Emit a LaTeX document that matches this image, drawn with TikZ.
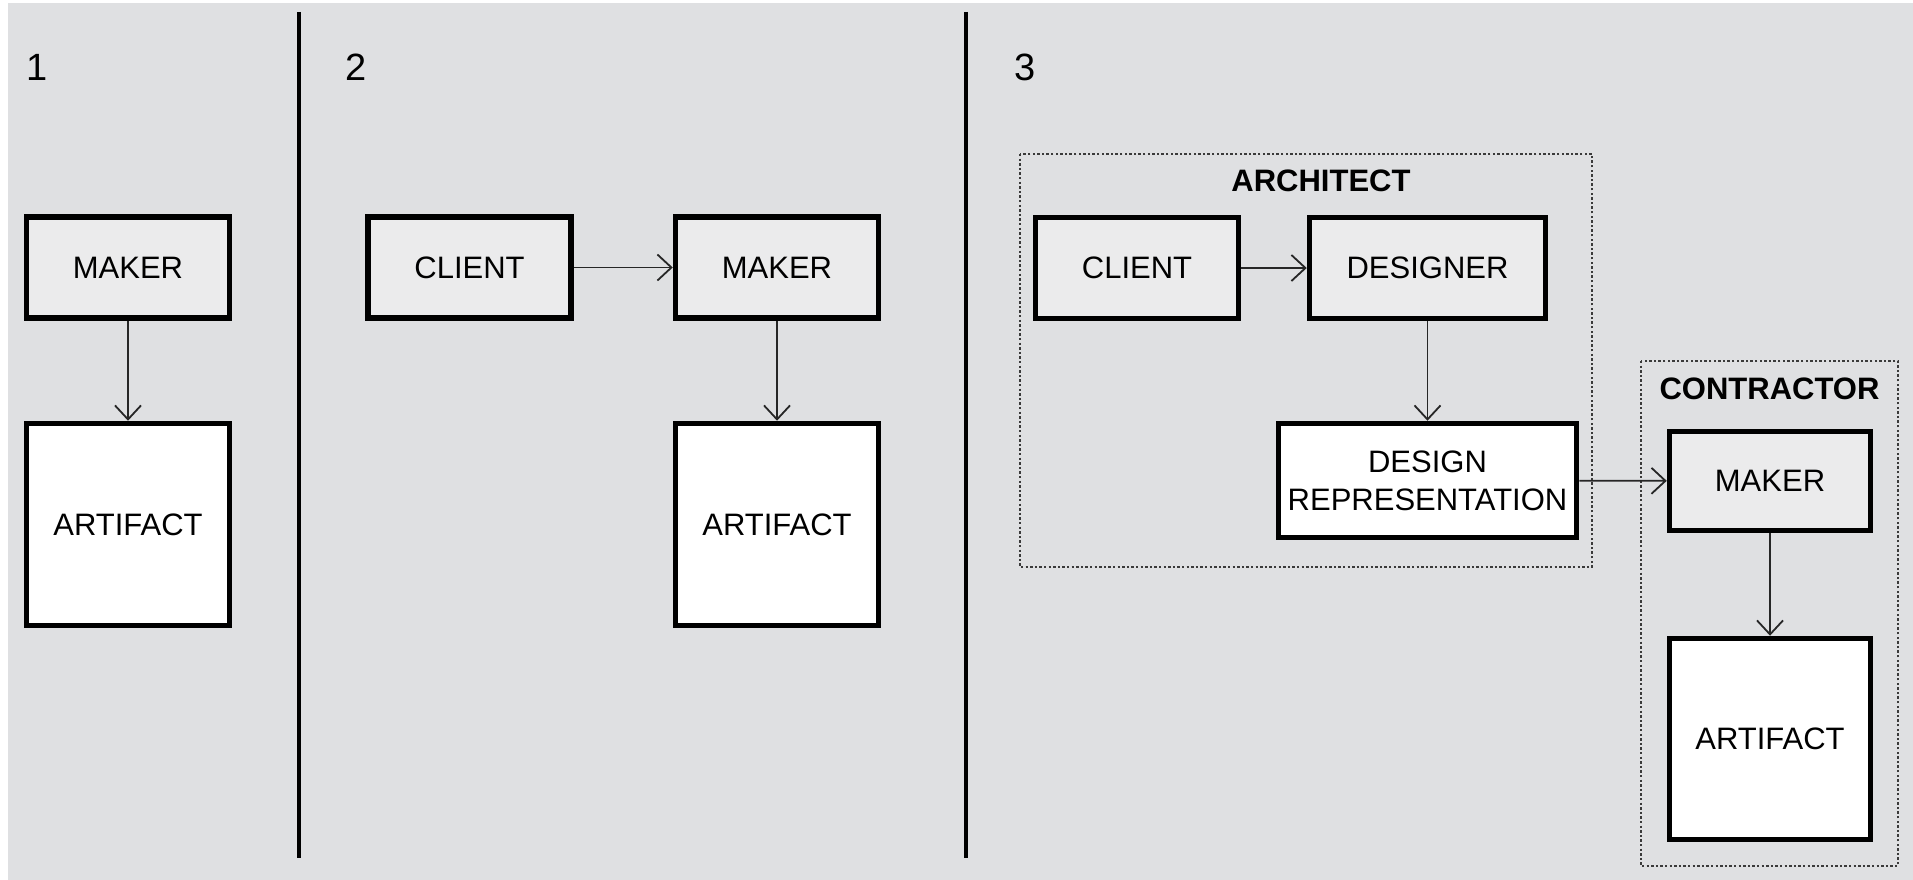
\documentclass[tikz,border=0pt]{standalone}
\usepackage{fontspec}
\setmainfont{Liberation Sans}
\usetikzlibrary{arrows.meta}
\definecolor{bggray}{HTML}{DFE0E2}
\definecolor{boxgray}{HTML}{EBEBEC}
\definecolor{dotgray}{HTML}{3A3A3A}
\tikzset{
  lbl/.style={font=\fontsize{31}{38}\selectfont, text=black, inner sep=0pt},
  ttl/.style={font=\fontsize{31}{38}\selectfont\bfseries, text=black, inner sep=0pt},
  num/.style={font=\fontsize{38}{44}\selectfont, text=black, inner sep=0pt},
  actor/.style={lbl, draw=black, line width=5.5pt, fill=boxgray, minimum width=203pt, minimum height=101pt, align=center},
  thing/.style={lbl, draw=black, line width=5.5pt, fill=white, minimum width=203pt, minimum height=202pt, align=center},
  flow/.style={draw=black!85, line width=1.8pt, -{Straight Barb[length=14pt,width=26pt,line width=1.8pt]}},
  group/.style={draw=dotgray, line width=2.4pt, dash pattern=on 2.4pt off 2.2pt},
  divider/.style={draw=black, line width=4pt}
}
\begin{document}
\begin{tikzpicture}[x=1pt,y=-1pt]
\useasboundingbox (0,0) rectangle (1913,880);
\fill[white] (0,0) rectangle (1913,880);
\fill[bggray] (8,3) rectangle (1913,880);

% dividers
\coordinate (d1t) at (299,12); \coordinate (d1b) at (299,858);
\coordinate (d2t) at (966,12); \coordinate (d2b) at (966,858);
\draw[divider] (d1t) -- (d1b);
\draw[divider] (d2t) -- (d2b);

% numbers
\node[num] (n1) at (37,67) {1};
\node[num] (n2) at (356,67) {2};
\node[num] (n3) at (1025,67) {3};

% panel 1
\node[actor] (m1) at (128,267.5) {MAKER};
\node[thing] (a1) at (128,524.5) {ARTIFACT};
\draw[flow] (m1) -- (a1);

% panel 2
\node[actor] (c2) at (469.5,267.5) {CLIENT};
\node[actor] (m2) at (777,267.5) {MAKER};
\node[thing] (a2) at (777,524.5) {ARTIFACT};
\draw[flow] (c2) -- (m2);
\draw[flow] (m2) -- (a2);

% panel 3 groups
\draw[group] (1020,154) rectangle (1592,567);
\draw[group] (1641,361) rectangle (1898,866);
\node[ttl] (arch) at (1321,181) {ARCHITECT};
\node[ttl] (contr) at (1769.5,389) {CONTRACTOR};

% panel 3
\node[actor] (c3) at (1137,268) {CLIENT};
\node[actor, minimum width=236pt] (des) at (1427.5,268) {DESIGNER};
\node[thing, fill=white, minimum width=298pt, minimum height=114pt] (dr) at (1427.5,480.5) {DESIGN\\REPRESENTATION};
\node[actor, minimum width=201pt, minimum height=99pt] (m3) at (1770,481) {MAKER};
\node[thing, minimum width=201pt, minimum height=201pt] (a3) at (1770,739) {ARTIFACT};
\draw[flow] (c3) -- (des);
\draw[flow] (des) -- (des |- dr.north);
\draw[flow] (dr) -- (m3);
\draw[flow] (m3) -- (a3);
\end{tikzpicture}
\end{document}
